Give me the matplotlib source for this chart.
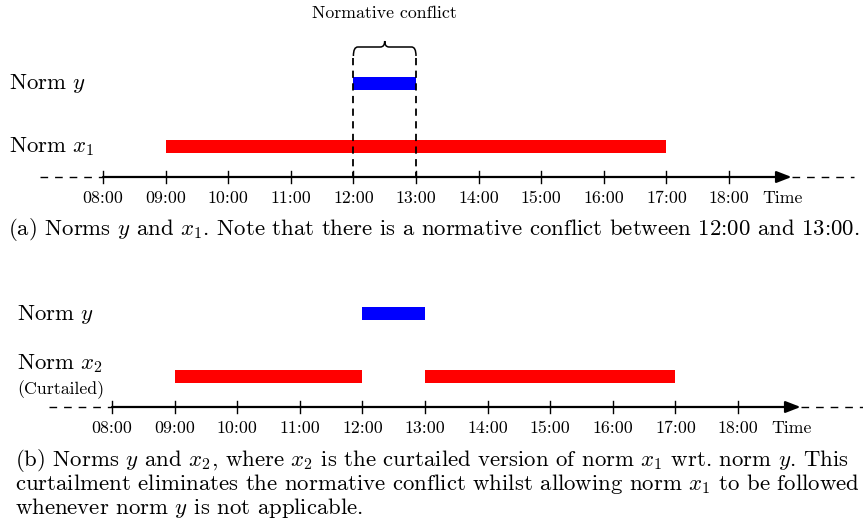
import matplotlib.pyplot as plt
from matplotlib.path import Path
from matplotlib.patches import PathPatch

plt.rcParams['font.family'] = 'cmr10'
plt.rcParams['mathtext.fontset'] = 'cm'
plt.rcParams['axes.unicode_minus'] = False

# timeline data (hours)
hours = list(range(8, 19))
hour_labels = ['%02d:00' % h for h in hours]
norm_y = [(12, 13)]
norm_x1 = [(9, 17)]
norm_x2 = [(9, 12), (13, 17)]
conflict = (12, 13)

W, H = 863, 521
fig = plt.figure(figsize=(W / 100, H / 100), dpi=100)

PX_PER_HOUR = 62.6
BIG = 16.4
SMALL = 12.8


def make_axes(x08):
    # full-figure axes; x in hours, y in pixel rows (top = 0)
    ax = fig.add_axes([0, 0, 1, 1])
    x0 = 8 - x08 / PX_PER_HOUR
    ax.set_xlim(x0, x0 + W / PX_PER_HOUR)
    ax.set_ylim(H, 0)
    ax.axis('off')
    return ax


def ftext(x, y, s, size, **kw):
    fig.text(x / W, 1 - y / H, s, fontsize=size, va='baseline', **kw)


def draw_bars(ax, spans, y, color):
    for a, b in spans:
        segs = [(h, 1) for h in range(a, b)]
        ax.broken_barh(segs, (y - 6.5, 13), facecolors=color, edgecolor='none')


def draw_timeline(ax, y):
    ax.plot([7, 8], [y, y], ls=(0, (5.5, 5)), color='black', lw=1)
    ax.plot([19, 20], [y, y], ls=(0, (5.5, 5)), color='black', lw=1)
    ax.annotate('', xy=(19, y), xytext=(8, y),
                arrowprops=dict(arrowstyle='-|>,head_length=0.9,head_width=0.35',
                                color='black', lw=1.6, shrinkA=0, shrinkB=0))
    for h in hours:
        ax.plot([h, h], [y - 6, y + 6], color='black', lw=1)


def tick_labels(ax, y):
    for h, lab in zip(hours, hour_labels):
        ax.text(h, y, lab, fontsize=SMALL, ha='center', va='baseline')
    ax.text(18.86, y, 'Time', fontsize=SMALL, ha='center', va='baseline')


# ---- panel (a)
axa = make_axes(103)
draw_bars(axa, norm_y, 83, '#0000ff')
draw_bars(axa, norm_x1, 146, '#ff0000')
for x in conflict:
    axa.plot([x, x], [58, 177], ls=(0, (4, 3)), color='black', lw=1.3)
draw_timeline(axa, 177)
tick_labels(axa, 203)

# curly brace over the conflict interval
a, b = conflict
m = (a + b) / 2
d = 0.07
verts = [(a, 56), (a, 47), (a + d, 47), (m - d, 47), (m, 47), (m, 41),
         (m, 47), (m + d, 47), (b - d, 47), (b, 47), (b, 56)]
codes = [Path.MOVETO, Path.CURVE3, Path.CURVE3, Path.LINETO, Path.CURVE3, Path.CURVE3,
         Path.CURVE3, Path.CURVE3, Path.LINETO, Path.CURVE3, Path.CURVE3]
axa.add_patch(PathPatch(Path(verts, codes), fill=False, lw=1.1, color='black'))
axa.text(m, 18, 'Normative conflict', fontsize=SMALL, ha='center', va='baseline')

ftext(9, 89, 'Norm $y$', BIG)
ftext(9, 152, 'Norm $x_1$', BIG)
ftext(8, 235, '(a) Norms $y$ and $x_1$. Note that there is a normative conflict '
      'between 12:00 and 13:00.', BIG)

# ---- panel (b)
axb = make_axes(112)
draw_bars(axb, norm_y, 313, '#0000ff')
draw_bars(axb, norm_x2, 376, '#ff0000')
draw_timeline(axb, 407)
tick_labels(axb, 433)

ftext(17, 320, 'Norm $y$', BIG)
ftext(17, 369, 'Norm $x_2$', BIG)
ftext(17, 394, '(Curtailed)', SMALL)
ftext(15, 466, '(b) Norms $y$ and $x_2$, where $x_2$ is the curtailed version of '
      'norm $x_1$ wrt. norm $y$. This', BIG)
ftext(15, 490, 'curtailment eliminates the normative conflict whilst allowing '
      'norm $x_1$ to be followed', BIG)
ftext(15, 514, 'whenever norm $y$ is not applicable.', BIG)

fig.savefig('out.png', dpi=100)
